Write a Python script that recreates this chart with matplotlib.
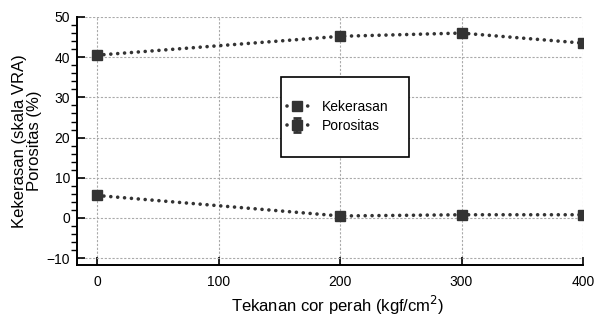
import matplotlib
matplotlib.use("Agg")
import matplotlib.pyplot as plt
from matplotlib.ticker import MultipleLocator
from matplotlib.patches import Rectangle

plt.rcParams['font.family'] = ['Liberation Sans', 'DejaVu Sans']

tekanan = [0, 200, 300, 400]
kekerasan = [40.5, 45.2, 46.0, 43.5]
porositas = [5.6, 0.5, 0.8, 0.8]
porositas_err = [1.0, 0.8, 0.6, 0.6]

c = '#333333'
dots = (0, (0.01, 1.9))
fig = plt.figure(figsize=(5.96, 3.21), dpi=100)
ax = fig.add_axes([77/596, 1 - 265/321, (583-77)/596, (265-17)/321])

l1, = ax.plot(tekanan, kekerasan, color=c, ls=dots, lw=2.6, dash_capstyle='round',
              marker='s', ms=7, label='Kekerasan')
eb = ax.errorbar(tekanan, porositas, yerr=porositas_err, color=c, ls=dots, lw=2.6,
                 marker='s', ms=6.5, capsize=3, elinewidth=1.5, capthick=2,
                 label='Porositas')
eb[0].set_dash_capstyle('round')

ax.set_xlim(-16.5, 400)
ax.set_ylim(-11.7, 50)
ax.xaxis.set_major_locator(MultipleLocator(100))
ax.yaxis.set_major_locator(MultipleLocator(10))
ax.yaxis.set_minor_locator(MultipleLocator(2))
ax.tick_params(axis='both', direction='in', labelsize=10, colors='black', width=1.2)
ax.tick_params(axis='y', which='major', length=6, pad=5)
ax.tick_params(axis='y', which='minor', length=4, width=1)
ax.tick_params(axis='x', which='major', length=6, pad=7)
ax.grid(True, ls=(0, (2, 1.5)), color='#aaaaaa', lw=0.8)
for s in ['top', 'right']:
    ax.spines[s].set_visible(False)
for s in ['left', 'bottom']:
    ax.spines[s].set_linewidth(1.4)

ax.set_xlabel('Tekanan cor perah (kgf/cm$^2$)', fontsize=12, labelpad=4)
ax.xaxis.set_label_coords(0.515, -0.115)
ax.set_ylabel('Kekerasan (skala VRA)\nPorositas (%)', fontsize=12, linespacing=1.0, labelpad=3)

# legend box
ax.add_patch(Rectangle((0.403, 0.435), 0.253, 0.323, transform=ax.transAxes,
                       facecolor='white', edgecolor='black', lw=1.2, zorder=5))
leg = ax.legend(loc='center', bbox_to_anchor=(0.515, 0.60), frameon=False, fontsize=10,
                handlelength=1.5, handletextpad=1.0, labelspacing=0.35, numpoints=1)
leg.set_zorder(6)

fig.savefig('out.png', dpi=100)
